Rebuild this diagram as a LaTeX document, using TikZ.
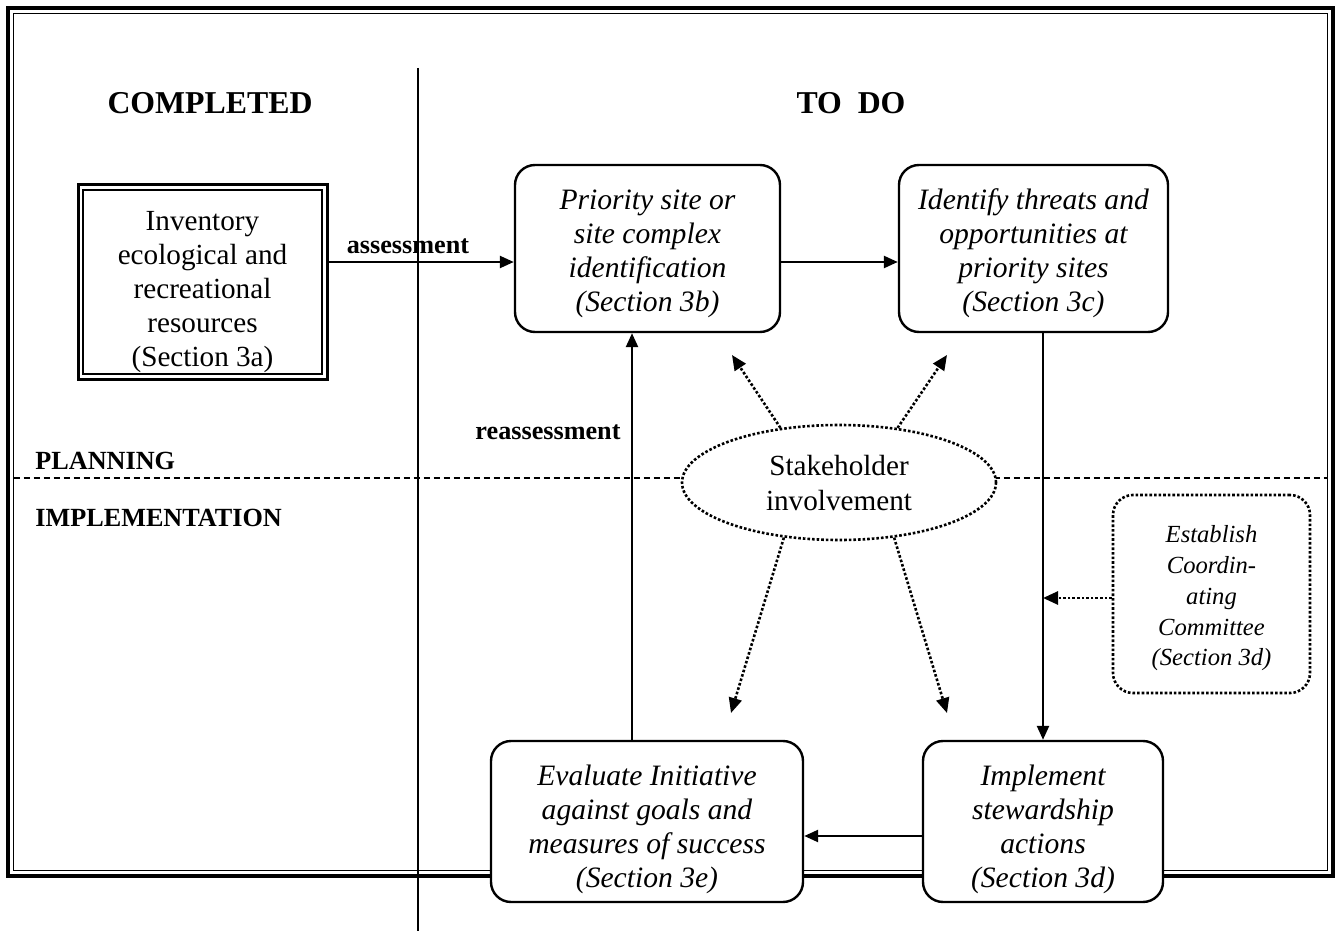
\documentclass[tikz,border=0pt]{standalone}
\usepackage{fontspec}
\setmainfont{Liberation Serif}
\usetikzlibrary{arrows.meta,shapes.geometric}
\begin{document}
\begin{tikzpicture}[x=0.5pt,y=-0.5pt,
 arr/.style={line width=1.2pt,-{Triangle[length=7pt,width=6pt]}},
 dotarr/.style={line width=1.3pt,dash pattern=on 1.3pt off 1pt,-{Triangle[length=7.5pt,width=6.5pt]}},
 rbox/.style={draw,line width=1.2pt,rounded corners=10pt,fill=white,align=center,inner sep=0pt,font=\fontsize{14.8}{17}\selectfont\itshape},
 hdr/.style={font=\fontsize{15.9}{18}\selectfont\bfseries},
 lbl/.style={font=\fontsize{13.1}{15}\selectfont\bfseries},
]
\useasboundingbox (0,0) rectangle (1340,931);
% outer frame
\draw[line width=1.8pt] (8,8) rectangle (1333,876);
\draw[line width=0.9pt] (13.5,13.5) rectangle (1327.5,870.5);
% dividers
\draw[line width=1.1pt] (418,68) -- (418,931);
\draw[line width=0.6pt,dash pattern=on 3pt off 2pt] (13.5,478) -- (1327.5,478);
% headings
\node[hdr] (hc) at (210,103) {COMPLETED};
\node[hdr] (ht) at (851,103) {TO\ \ DO};
\node[lbl,anchor=west,inner sep=0pt] (hp) at (35,461) {PLANNING};
\node[lbl,anchor=west,inner sep=0pt] (hi) at (35,518) {IMPLEMENTATION};
% nodes
\node[draw,line width=1.5pt,fill=white,minimum width=124.5pt,minimum height=97pt,inner sep=0pt,align=center,font=\fontsize{14.6}{17}\selectfont] (inv) at (202.5,282) {\rule{0pt}{19.5pt}Inventory\\ecological and\\recreational\\resources\\(Section 3a)};
\draw[line width=0.9pt] ([shift={(3.2pt,-3.2pt)}]inv.north west) rectangle ([shift={(-3.2pt,3.2pt)}]inv.south east);
\node[rbox,minimum width=132.5pt,minimum height=83.5pt] (prio) at (647.5,248.5) {\rule{0pt}{15.5pt}Priority site or\\site complex\\identification\\(Section 3b)};
\node[rbox,minimum width=134.5pt,minimum height=83.5pt] (ident) at (1033.5,248.5) {\rule{0pt}{15.5pt}Identify threats and\\opportunities at\\priority sites\\(Section 3c)};
\node[rbox,minimum width=156pt,minimum height=80.5pt] (eval) at (647,821.5) {\rule{0pt}{18.5pt}Evaluate Initiative\\against goals and\\measures of success\\(Section 3e)};
\node[rbox,minimum width=120pt,minimum height=80.5pt] (impl) at (1043,821.5) {\rule{0pt}{18.5pt}Implement\\stewardship\\actions\\(Section 3d)};
\node[rbox,dash pattern=on 1.3pt off 1pt,line width=1.3pt,minimum width=98.5pt,minimum height=99pt,font=\fontsize{12.3}{15.4}\selectfont\itshape] (estab) at (1211.5,594) {\rule{0pt}{13pt}Establish\\Coordin-\\ating\\Committee\\(Section 3d)};
\node[ellipse,draw,line width=1.3pt,dash pattern=on 1.3pt off 1pt,fill=white,minimum width=157pt,minimum height=57.5pt,inner sep=0pt,align=center,font=\fontsize{14.6}{17.5}\selectfont] (stake) at (839,482.5) {\rule{0pt}{11pt}Stakeholder\\involvement};
% coordinates
\coordinate (X) at (632,0);
\coordinate (t1) at (732,355);
\coordinate (t2) at (947,355);
\coordinate (t3) at (731,713);
\coordinate (t4) at (947,713);
% connectors
\draw[arr] (inv.east |- 0,262) -- (prio.west |- 0,262);
\node[lbl] (la) at (408,246) {assessment};
\draw[arr] (prio.east |- 0,262) -- (ident.west |- 0,262);
\draw[arr] (ident.south -| impl.north) -- (impl.north);
\draw[arr] (impl.west |- 0,836) -- (eval.east |- 0,836);
\draw[arr] (eval.north -| X) -- (prio.south -| X);
\node[lbl] (lr) at (548,432) {reassessment};
\draw[dotarr] (estab.west |- 0,598) -- (impl.north |- 0,598);
\draw[dotarr] (stake.137) -- (t1);
\draw[dotarr] (stake.43) -- (t2);
\draw[dotarr] (stake.225) -- (t3);
\draw[dotarr] (stake.315) -- (t4);
\end{tikzpicture}
\end{document}
